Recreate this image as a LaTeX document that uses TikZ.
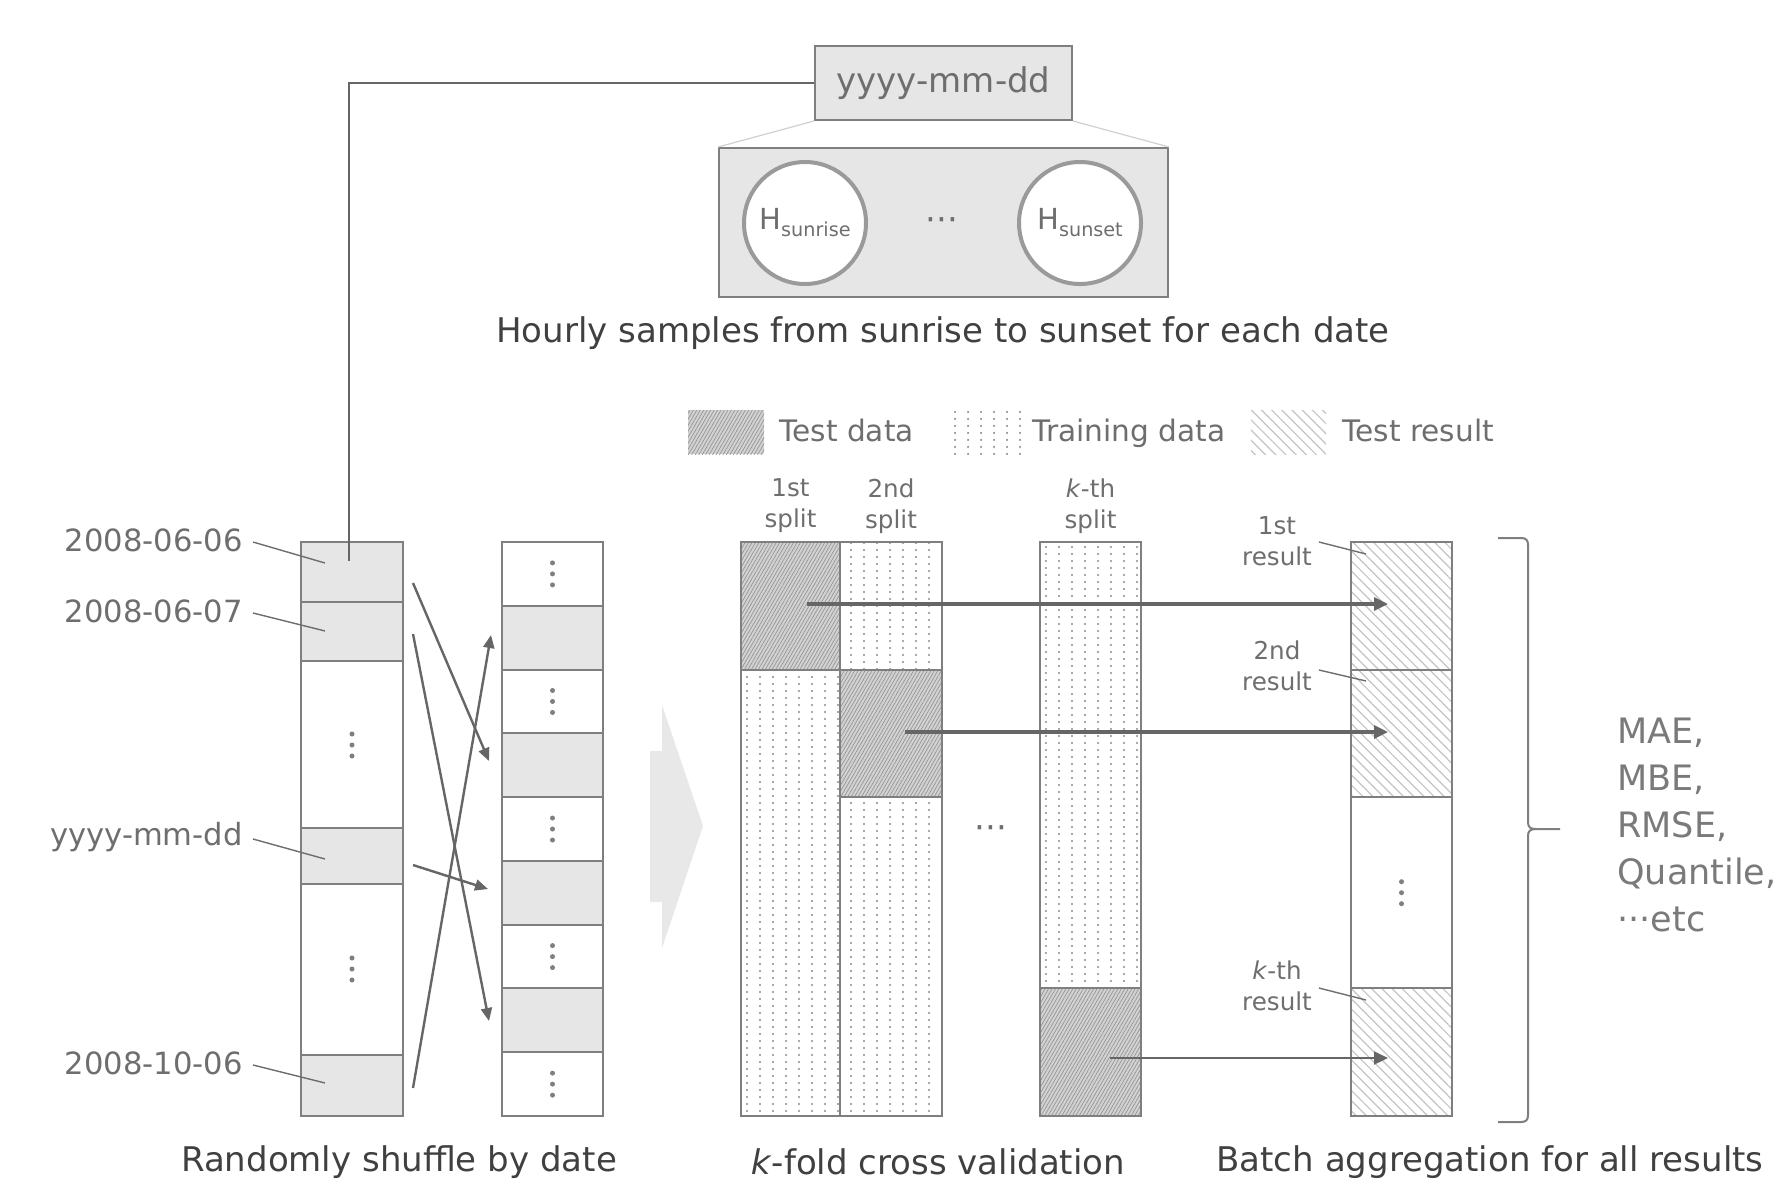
\documentclass[tikz,border=0pt]{standalone}
\usepackage{fontspec}
\setmainfont{DejaVu Sans}
\usetikzlibrary{arrows.meta,patterns,patterns.meta}

\definecolor{bordergray}{HTML}{7F7F7F}
\definecolor{linegray}{HTML}{666666}
\definecolor{cellgray}{HTML}{E6E6E6}
\definecolor{txtdark}{HTML}{404040}
\definecolor{txtgray}{HTML}{6E6E6E}
\definecolor{metricgray}{HTML}{7A7A7A}
\definecolor{lightline}{HTML}{D0D0D0}
\definecolor{arrowgray}{HTML}{E8E8E8}
\definecolor{circgray}{HTML}{9A9A9A}
\definecolor{dotgray}{HTML}{8C8C8C}
\definecolor{hatchgray}{HTML}{C4C4C4}
\definecolor{testbase}{HTML}{D2D2D2}
\definecolor{teststroke}{HTML}{959595}
\definecolor{vdotgray}{HTML}{7F7F7F}

\pgfdeclarepatternformonly{traindots}{\pgfpointorigin}{\pgfqpoint{6.5pt}{3.25pt}}{\pgfqpoint{6.5pt}{3.25pt}}{%
  \pgfpathcircle{\pgfqpoint{3.25pt}{1.6pt}}{0.6pt}\pgfusepath{fill}}

\newcommand{\vdts}[2]{\fill[vdotgray] (#1,#2-11) circle (2.5) (#1,#2) circle (2.5) (#1,#2+11) circle (2.5);}

\tikzset{
  box/.style={draw=bordergray, line width=1pt, fill=cellgray, inner sep=0pt},
  cellg/.style={draw=bordergray, line width=1pt, fill=cellgray},
  cellw/.style={draw=bordergray, line width=1pt, fill=white},
  train/.style={draw=bordergray, line width=1pt, preaction={fill=white}, pattern=traindots, pattern color=dotgray},
  testd/.style={draw=bordergray, line width=1pt, preaction={fill=testbase}, pattern={Lines[angle=60,distance=1.5pt,line width=0.35pt]}, pattern color=teststroke},
  resultd/.style={draw=bordergray, line width=1pt, preaction={fill=white}, pattern={Lines[angle=-45,distance=3.6pt,line width=0.6pt]}, pattern color=hatchgray},
  leader/.style={draw=txtgray, line width=0.7pt},
  conn/.style={draw=linegray, line width=1pt},
  shuf/.style={draw=linegray, line width=1.2pt, -{Triangle[length=6.5pt,width=5.5pt]}},
  thickarr/.style={draw=linegray, line width=1.6pt, -{Triangle[length=7pt,width=6.5pt]}},
  thinarr/.style={draw=linegray, line width=1pt, -{Triangle[length=7pt,width=6.5pt]}},
  captxt/.style={font=\fontsize{17}{20}\selectfont, text=txtdark, inner sep=0pt},
  datelbl/.style={font=\fontsize{15.3}{18}\selectfont, text=txtgray, inner sep=0pt, anchor=east},
  legtxt/.style={font=\fontsize{14.8}{18}\selectfont, text=txtgray, inner sep=0pt, anchor=base west},
  smalltxt/.style={font=\fontsize{12.3}{15.5}\selectfont, text=txtgray, inner sep=0pt, align=center},
  hcirc/.style={circle, draw=circgray, line width=2pt, fill=white, minimum size=61pt, inner sep=0pt, text=txtgray},
}

\begin{document}
\begin{tikzpicture}[x=0.5pt,y=-0.5pt]
\useasboundingbox (0,0) rectangle (1788,1185);
\fill[white] (0,0) rectangle (1788,1185);

% ---------- top: date box and hourly samples ----------
\node[box, minimum width=128.5pt, minimum height=37pt, font=\fontsize{17}{20}\selectfont, text=txtgray] (topbox) at (943.5,83) {yyyy-mm-dd};
\node[box, minimum width=224.5pt, minimum height=74.5pt] (hourbox) at (943.5,222.5) {};
\draw[lightline, line width=0.6pt] (topbox.south west) -- (hourbox.north west);
\draw[lightline, line width=0.6pt] (topbox.south east) -- (hourbox.north east);
\node[hcirc] (hsr) at (805,223) {{\fontsize{14.5}{15}\selectfont H}\raisebox{-0.35em}{\fontsize{9.6}{10}\selectfont sunrise}};
\node[hcirc] (hss) at (1080,223) {{\fontsize{14.5}{15}\selectfont H}\raisebox{-0.35em}{\fontsize{9.6}{10}\selectfont sunset}};
\node[font=\fontsize{17}{20}\selectfont, text=txtgray, inner sep=0pt] (hdots) at (942,225) {···};
\node[captxt] (hourcap) at (943,333) {Hourly samples from sunrise to sunset for each date};

% ---------- legend ----------
\path[testd, draw=none] (688,410) rectangle (764,454);
\node[legtxt] (legtest) at (779,441) {Test data};
\path[train, draw=none] (944,410) rectangle (1021,454);
\node[legtxt] (legtrain) at (1032,441) {Training data};
\path[resultd, draw=none] (1251,410) rectangle (1326,454);
\node[legtxt] (legres) at (1342,441) {Test result};

% ---------- left: original column ----------
\path[cellg] (301,542) rectangle (403,602);
\path[cellg] (301,602) rectangle (403,661);
\path[cellw] (301,661) rectangle (403,828);
\path[cellg] (301,828) rectangle (403,884);
\path[cellw] (301,884) rectangle (403,1055);
\path[cellg] (301,1055) rectangle (403,1116);
\vdts{352}{745}
\vdts{352}{969}

% ---------- left: shuffled column ----------
\foreach \i in {0,...,8} {
  \pgfmathsetmacro{\ya}{542+\i*63.78}
  \pgfmathsetmacro{\yb}{542+(\i+1)*63.78}
  \pgfmathsetmacro{\ym}{542+(\i+0.5)*63.78}
  \ifodd\i
    \path[cellg] (502,\ya) rectangle (603,\yb);
  \else
    \path[cellw] (502,\ya) rectangle (603,\yb);
    \vdts{552.5}{\ym}
  \fi
}

% date labels and leaders
\node[datelbl] (d1) at (243,540) {2008-06-06};
\node[datelbl] (d2) at (243,611) {2008-06-07};
\node[datelbl] (d3) at (243,837) {yyyy-mm-dd};
\node[datelbl] (d4) at (243,1063) {2008-10-06};
\coordinate (l1) at (325,563);
\coordinate (l2) at (325,631);
\coordinate (l3) at (325,859);
\coordinate (l4) at (325,1083);
\draw[leader] ([xshift=5pt,yshift=-1pt]d1.east) -- (l1);
\draw[leader] ([xshift=5pt,yshift=-1pt]d2.east) -- (l2);
\draw[leader] ([xshift=5pt,yshift=-1pt]d3.east) -- (l3);
\draw[leader] ([xshift=5pt,yshift=-1pt]d4.east) -- (l4);

% connector from top date box into first cell
\coordinate (cend) at (349,561);
\draw[conn] (topbox.west) -| (cend);

% shuffle arrows
\coordinate (sa0) at (413,583);  \coordinate (sa1) at (489,761);
\coordinate (sb0) at (413,634);  \coordinate (sb1) at (489,1021);
\coordinate (sc0) at (413,865);  \coordinate (sc1) at (488,889);
\coordinate (sd0) at (413,1088); \coordinate (sd1) at (491,635);
\draw[shuf] (sa0) -- (sa1);
\draw[shuf] (sb0) -- (sb1);
\draw[shuf] (sc0) -- (sc1);
\draw[shuf] (sd0) -- (sd1);

\node[captxt] (cap1) at (399,1162) {Randomly shuffle by date};

% ---------- big gray arrow ----------
\fill[arrowgray] (650,751) -- (662,751) -- (662,705) -- (703,826) -- (662,948) -- (662,902) -- (650,902) -- cycle;

% ---------- k-fold columns ----------
\path[testd]  (741,542) rectangle (840,669.6);
\path[train]  (741,669.6) rectangle (840,1116);
\path[train]  (840,542) rectangle (942,669.6);
\path[testd]  (840,669.6) rectangle (942,797.1);
\path[train]  (840,797.1) rectangle (942,1116);
\path[train]  (1040,542) rectangle (1141,988.4);
\path[testd]  (1040,988.4) rectangle (1141,1116);

\node[smalltxt] (sp1) at (790.5,506) {1st\\split};
\node[smalltxt] (sp2) at (891,506) {2nd\\split};
\node[smalltxt] (spk) at (1090.5,506) {\textit{k}-th\\split};
\node[font=\fontsize{17}{20}\selectfont, text=txtgray, inner sep=0pt] (kdots) at (991,833) {···};

\node[captxt] (cap2) at (938,1162) {\textit{k}-fold cross validation};

% ---------- result column ----------
\path[resultd] (1351,542) rectangle (1452,669.6);
\path[resultd] (1351,669.6) rectangle (1452,797.1);
\path[cellw]   (1351,797.1) rectangle (1452,988.4);
\path[resultd] (1351,988.4) rectangle (1452,1116);
\vdts{1401.5}{892.7}

\node[smalltxt] (r1) at (1277,541) {1st\\result};
\node[smalltxt] (r2) at (1277,666) {2nd\\result};
\node[smalltxt] (rk) at (1277,986) {\textit{k}-th\\result};
\coordinate (rl1a) at (1319,542); \coordinate (rl1b) at (1366,554);
\coordinate (rl2a) at (1319,670); \coordinate (rl2b) at (1366,681);
\coordinate (rlka) at (1319,988); \coordinate (rlkb) at (1366,1000);
\draw[leader] (rl1a) -- (rl1b);
\draw[leader] (rl2a) -- (rl2b);
\draw[leader] (rlka) -- (rlkb);

% arrows from test blocks to results
\coordinate (t1) at (807,604);  \coordinate (e1) at (1388,604);
\coordinate (t2) at (905,732);  \coordinate (e2) at (1388,732);
\coordinate (tk) at (1110,1058); \coordinate (ek) at (1388,1058);
\draw[thickarr] (t1) -- (e1);
\draw[thickarr] (t2) -- (e2);
\draw[thinarr] (tk) -- (ek);

% brace
\draw[bordergray, line width=1pt]
  (1498,538) -- (1521,538) .. controls (1526,538) and (1528,540) .. (1528,545)
  -- (1528,822) .. controls (1528,827) and (1530,829) .. (1536,829) -- (1560,829);
\draw[bordergray, line width=1pt]
  (1536,829) .. controls (1530,829) and (1528,831) .. (1528,836)
  -- (1528,1115) .. controls (1528,1120) and (1526,1122) .. (1521,1122) -- (1498,1122);

\node[font=\fontsize{17.5}{23.5}\selectfont, text=metricgray, align=left, anchor=west, inner sep=0pt] (metrics) at (1617,825) {MAE,\\MBE,\\RMSE,\\Quantile,\\···etc};

\node[captxt] (cap3) at (1490,1162) {Batch aggregation for all results};
\end{tikzpicture}
\end{document}
